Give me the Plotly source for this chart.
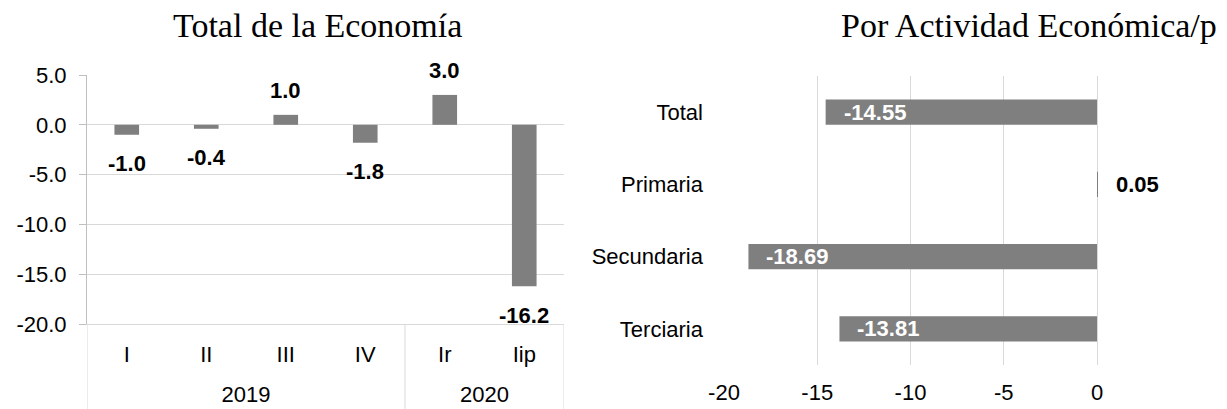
import plotly.graph_objects as go

W, H = 1227, 409

# ---- data ----
years = ["2019", "2019", "2019", "2019", "2020", "2020"]
quarters = ["I", "II", "III", "IV", "Ir", "Iip"]
total_values = [-1.0, -0.4, 1.0, -1.8, 3.0, -16.2]

sectors = ["Total", "Primaria", "Secundaria", "Terciaria"]
sector_values = [-14.55, 0.05, -18.69, -13.81]

left_ticks = [5.0, 0.0, -5.0, -10.0, -15.0, -20.0]
right_ticks = [-20, -15, -10, -5, 0]

left_title = "Total de la Economía"
right_title = "Por Actividad Económica/p"

# ---- styles ----
BAR = "#7f7f7f"
GRID = "#d9d9d9"
AXIS = "#bfbfbf"
SANS = "Liberation Sans, Arial, sans-serif"
SERIF = "Liberation Serif, Times New Roman, serif"


def fx(p):
    return p / W


def fy(p):
    return 1 - p / H


# group structure of the year level (derived from the data lists)
year_names = []
for y in years:
    if y not in year_names:
        year_names.append(y)
year_centers = []
for yn in year_names:
    idx = [i for i, y in enumerate(years) if y == yn]
    year_centers.append(sum(idx) / len(idx))
boundaries = [-0.5] + [i - 0.5 for i in range(1, len(years)) if years[i] != years[i - 1]] + [len(years) - 0.5]

fig = go.Figure()
fig.add_trace(go.Bar(
    x=quarters, y=total_values, marker_color=BAR, marker_line_width=0,
    width=0.31, xaxis="x", yaxis="y", showlegend=False, hoverinfo="skip"))
fig.add_trace(go.Bar(
    x=sector_values, y=sectors, orientation="h", marker_color=BAR, marker_line_width=0,
    width=0.35, xaxis="x2", yaxis="y2", showlegend=False, hoverinfo="skip"))

annotations = []
for i, v in enumerate(total_values):
    annotations.append(dict(
        x=i, y=v, xref="x", yref="y", text=f"{v:.1f}", showarrow=False,
        yshift=24 if v > 0 else -29,
        font=dict(family=SANS, size=22, color="black", weight="bold")))
for s, v in zip(sectors, sector_values):
    annotations.append(dict(
        x=v, y=s, xref="x2", yref="y2", text=f"{v:.2f}", showarrow=False,
        xanchor="left", xshift=16,
        font=dict(family=SANS, size=22, color="white" if v < 0 else "black", weight="bold")))
annotations.append(dict(x=fx(317), y=fy(26), xref="paper", yref="paper", text=left_title,
                        showarrow=False, xanchor="center", yanchor="middle",
                        font=dict(family=SERIF, size=34, color="black")))
annotations.append(dict(x=fx(1029), y=fy(26), xref="paper", yref="paper", text=right_title,
                        showarrow=False, xanchor="center", yanchor="middle",
                        font=dict(family=SERIF, size=34, color="black")))

shapes = []
for b in boundaries:
    shapes.append(dict(type="line", xref="x", yref="paper", x0=b, x1=b,
                       y0=0, y1=fy(324), line=dict(color=GRID, width=1)))

fig.update_layout(
    width=W, height=H,
    margin=dict(l=0, r=0, t=0, b=0),
    paper_bgcolor="white", plot_bgcolor="white",
    font=dict(family=SANS, size=22, color="black"),
    annotations=annotations,
    shapes=shapes,
    xaxis=dict(
        domain=[fx(87), fx(564)], anchor="y", type="category",
        categoryorder="array", categoryarray=quarters, range=[-0.5, len(quarters) - 0.5],
        showgrid=False, showline=True, linecolor=GRID, linewidth=1,
        zeroline=False, ticks="",
        ticklabelstandoff=11,
        tickfont=dict(family=SANS, size=22, color="black"),
        automargin=False),
    xaxis3=dict(
        domain=[fx(87), fx(564)], anchor="y", overlaying="x", side="bottom",
        type="linear", range=[-0.5, len(quarters) - 0.5],
        tickvals=year_centers, ticktext=year_names,
        showgrid=False, showline=False, zeroline=False, ticks="",
        ticklabelstandoff=55,
        tickfont=dict(family=SANS, size=22, color="black"),
        automargin=False),
    yaxis=dict(
        domain=[fy(324), fy(75)], anchor="x", range=[-20, 5],
        tickvals=left_ticks, ticktext=[f"{t:.1f}" for t in left_ticks],
        showgrid=True, gridcolor=GRID, gridwidth=1, zeroline=False,
        showline=True, linecolor=AXIS, linewidth=1,
        ticks="outside", ticklen=7, tickcolor=AXIS, ticklabelstandoff=8,
        tickfont=dict(family=SANS, size=22, color="black"),
        automargin=False),
    xaxis2=dict(
        domain=[fx(724), 1.0], anchor="y2", range=[-20, 6.97],
        tickvals=right_ticks, ticktext=[str(t) for t in right_ticks],
        showgrid=True, gridcolor=GRID, gridwidth=1,
        zeroline=False, showline=False, ticks="", ticklabelstandoff=12,
        tickfont=dict(family=SANS, size=22, color="black"),
        automargin=False),
    yaxis2=dict(
        domain=[fy(365), fy(76)], anchor="x2", categoryorder="array",
        categoryarray=sectors, autorange="reversed",
        showgrid=False, showline=False, zeroline=False, ticks="",
        ticklabelstandoff=20,
        tickfont=dict(family=SANS, size=22, color="black"),
        automargin=False),
)

# an invisible trace so the overlaying year axis is drawn
fig.add_trace(go.Scatter(x=year_centers, y=[None] * len(year_centers), xaxis="x3", yaxis="y",
                         mode="markers", showlegend=False, hoverinfo="skip"))

fig.write_html("out.html", config={"displayModeBar": False},
               post_script="document.body.style.margin='0';")
